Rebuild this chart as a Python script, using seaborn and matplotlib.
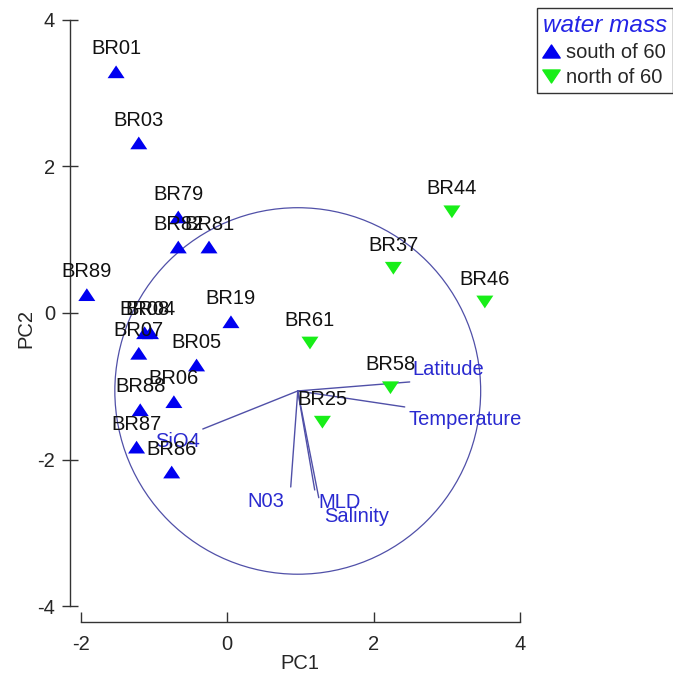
import matplotlib
matplotlib.use("Agg")
import matplotlib.pyplot as plt
import seaborn as sns
import pandas as pd
from matplotlib.path import Path
from matplotlib.markers import MarkerStyle
from matplotlib.lines import Line2D
from matplotlib.patches import Circle

# ---------------- data ----------------
stations = ["BR01", "BR03", "BR79", "BR82", "BR81", "BR89", "BR19", "BR08", "BR04",
            "BR07", "BR05", "BR06", "BR88", "BR87", "BR86",
            "BR44", "BR37", "BR46", "BR61", "BR58", "BR25"]
pc1 = [-1.52, -1.21, -0.67, -0.67, -0.25, -1.92, 0.05, -1.13, -1.05,
       -1.21, -0.42, -0.73, -1.19, -1.24, -0.76,
       3.07, 2.27, 3.52, 1.13, 2.23, 1.30]
pc2 = [3.29, 2.32, 1.31, 0.90, 0.90, 0.25, -0.12, -0.27, -0.27,
       -0.55, -0.71, -1.21, -1.32, -1.83, -2.17,
       1.38, 0.61, 0.15, -0.41, -1.02, -1.49]
water_mass = ["south of 60"] * 15 + ["north of 60"] * 6

# biplot vectors (origin, end points) and label anchors
vec_origin = (0.963, -1.064)
vec_names = ["Latitude", "Temperature", "N03", "MLD", "Salinity", "SiO4"]
vec_x = [2.493, 2.425, 0.867, 1.195, 1.25, -0.335]
vec_y = [-0.941, -1.282, -2.374, -2.415, -2.52, -1.583]
lab_x = [2.53, 2.48, 0.53, 1.24, 1.33, -0.99]
lab_y = [-0.846, -1.53, -2.65, -2.66, -2.85, -1.83]
lab_ha = ["left", "left", "center", "left", "left", "left"]
circle_r = 2.5

x_ticks = [-2, 0, 2, 4]
y_ticks = [-4, -2, 0, 2, 4]

df = pd.DataFrame({"PC1": pc1, "PC2": pc2, "station": stations, "mass": water_mass})

# ---------------- style ----------------
sns.set_style("white")
plt.rcParams["font.family"] = ["Liberation Sans", "DejaVu Sans"]

FS = 14.5
BLUE = "#0000F0"
GREEN = "#18EE18"
VEC_LINE = "#5050A8"
VEC_TXT = "#2A2AD0"

up = MarkerStyle(Path([(-1, -0.75), (1, -0.75), (0, 0.75), (-1, -0.75)],
                      [Path.MOVETO, Path.LINETO, Path.LINETO, Path.CLOSEPOLY]))
down = MarkerStyle(Path([(-1, 0.75), (1, 0.75), (0, -0.75), (-1, 0.75)],
                        [Path.MOVETO, Path.LINETO, Path.LINETO, Path.CLOSEPOLY]))

fig = plt.figure(figsize=(6.73, 6.77), dpi=100)
ax = fig.add_axes([0.1040, 0.0808, 0.6686, 0.8900])

# circle and vectors
ax.add_patch(Circle(vec_origin, circle_r, fill=False, ec=VEC_LINE, lw=0.9, zorder=1))
for vx, vy, name, tx, ty, ha in zip(vec_x, vec_y, vec_names, lab_x, lab_y, lab_ha):
    ax.plot([vec_origin[0], vx], [vec_origin[1], vy], color=VEC_LINE, lw=1.0, zorder=1)
    ax.text(tx, ty, name, color=VEC_TXT, fontsize=FS, ha=ha, va="baseline", zorder=2)

sns.scatterplot(data=df, x="PC1", y="PC2", hue="mass", style="mass",
                palette={"south of 60": BLUE, "north of 60": GREEN},
                markers={"south of 60": up, "north of 60": down},
                s=150, edgecolor="none", linewidth=0, legend=False, ax=ax, zorder=3)

for x, y, name in zip(pc1, pc2, stations):
    ax.annotate(name, (x, y), xytext=(0, 12.5), textcoords="offset points",
                ha="center", va="baseline", fontsize=FS, color="#111111", zorder=4)

ax.set_xlim(-2.15, 4.0)
ax.set_ylim(-4.22, 4.0)
ax.set_xticks(x_ticks)
ax.set_yticks(y_ticks)
ax.set_xticklabels([str(t) for t in x_ticks])
ax.set_yticklabels([str(t) for t in y_ticks])

for side in ["top", "right"]:
    ax.spines[side].set_visible(False)
ax.spines["left"].set_bounds(-4, 4)
ax.spines["bottom"].set_bounds(-2, 4)
for side in ["left", "bottom"]:
    ax.spines[side].set_color("#333333")
    ax.spines[side].set_linewidth(1.0)

ax.tick_params(axis="y", direction="inout", length=11.5, width=1.0, color="#333333",
               labelsize=FS, pad=5, left=True)
ax.tick_params(axis="x", direction="in", length=7, width=1.0, color="#333333",
               labelsize=FS, pad=9, bottom=True)

ax.set_xlabel("PC1", fontsize=FS, va="center")
ax.set_ylabel("PC2", fontsize=FS, va="center")
ax.xaxis.set_label_coords(0.511, -0.0676)
ax.yaxis.set_label_coords(-0.098, 0.487)

handles = [Line2D([], [], marker=up, color=BLUE, ls="none", markersize=12.5, label="south of 60"),
           Line2D([], [], marker=down, color=GREEN, ls="none", markersize=12.5, label="north of 60")]
leg = fig.legend(handles=handles, title="water mass", loc="upper left",
                 bbox_to_anchor=(537 / 673, 1 - 8 / 677), frameon=True, fancybox=False,
                 fontsize=FS, title_fontsize=17.5, handlelength=0.8, handletextpad=0.35,
                 borderpad=0.3, labelspacing=0.3, borderaxespad=0)
leg.get_frame().set_edgecolor("black")
leg.get_frame().set_linewidth(1.0)
leg.get_title().set_color("#2323E6")
leg.get_title().set_fontstyle("italic")
leg._legend_box.align = "left"

fig.savefig("out.png", dpi=100, facecolor="white")
